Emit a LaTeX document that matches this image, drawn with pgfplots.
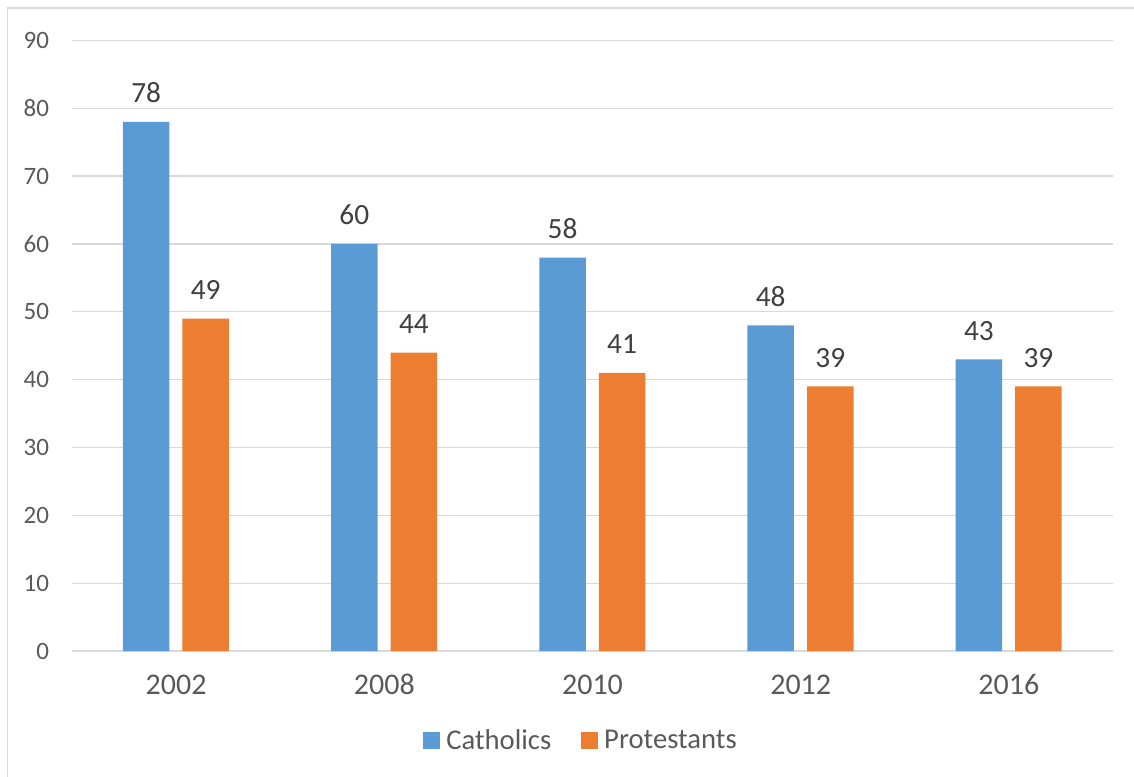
\documentclass[border=0pt]{standalone}
\usepackage{pgfplots}
\pgfplotsset{compat=1.18}
\usepackage{fontspec}
\setmainfont{Carlito}

\definecolor{cathblue}{HTML}{5B9BD5}
\definecolor{protorange}{HTML}{ED7D31}
\definecolor{gridgray}{HTML}{D9D9D9}
\definecolor{ticktext}{HTML}{595959}
\definecolor{labeltext}{HTML}{404040}

\pgfplotsset{/pgf/number format/assume math mode=true}

\begin{document}
\begin{tikzpicture}
\useasboundingbox (0,0) rectangle (850.5pt,582pt);
% chart frame
\draw[gridgray, line width=0.9pt] (5.8pt,-10pt) -- (5.8pt,576pt) -- (870pt,576pt);

\begin{axis}[
  at={(54pt,93.75pt)}, anchor=south west,
  scale only axis, width=780.75pt, height=457.9pt,
  ybar, bar width=0.2235,
  xmin=-0.5, xmax=4.5, ymin=0, ymax=90,
  xtick={0,1,2,3,4},
  xticklabels={2002,2008,2010,2012,2016},
  ytick={0,10,...,90},
  major tick length=0pt,
  axis x line*=bottom, axis y line*=left,
  x axis line style={-, draw=gridgray, line width=1.5pt},
  y axis line style={draw=none},
  ymajorgrids, grid style={gridgray, line width=1pt},
  xticklabel style={font=\fontsize{22.5pt}{27pt}\selectfont, text=ticktext, anchor=base, inner sep=0pt, yshift=-32.25pt},
  yticklabel style={font=\fontsize{18.75pt}{22pt}\selectfont, text=ticktext, anchor=east, inner sep=0pt, xshift=-17pt},
  nodes near coords,
  every node near coord/.append style={font=\fontsize{22pt}{26pt}\selectfont, text=labeltext, anchor=base, inner sep=0pt, yshift=14.25pt},
  legend columns=2,
  legend style={at={(0.488,-0.1467)}, anchor=center, draw=none, fill=none,
    font=\fontsize{21.5pt}{26pt}\selectfont, text=ticktext,
    inner sep=0pt, nodes={inner sep=0pt},
    /tikz/every odd column/.append style={column sep=4.7pt},
    /tikz/every even column/.append style={column sep=22.5pt}},
  legend image code/.code={\fill[#1] (0pt,-6.4pt) rectangle (12.5pt,6.1pt);},
  legend cell align=left,
]
\addplot[fill=cathblue, draw=none, bar shift=-0.144] coordinates {(0,78) (1,60) (2,58) (3,48) (4,43)};
\addplot[fill=protorange, draw=none, bar shift=0.142] coordinates {(0,49) (1,44) (2,41) (3,39) (4,39)};
\legend{Catholics, Protestants}
\end{axis}
\end{tikzpicture}
\end{document}
